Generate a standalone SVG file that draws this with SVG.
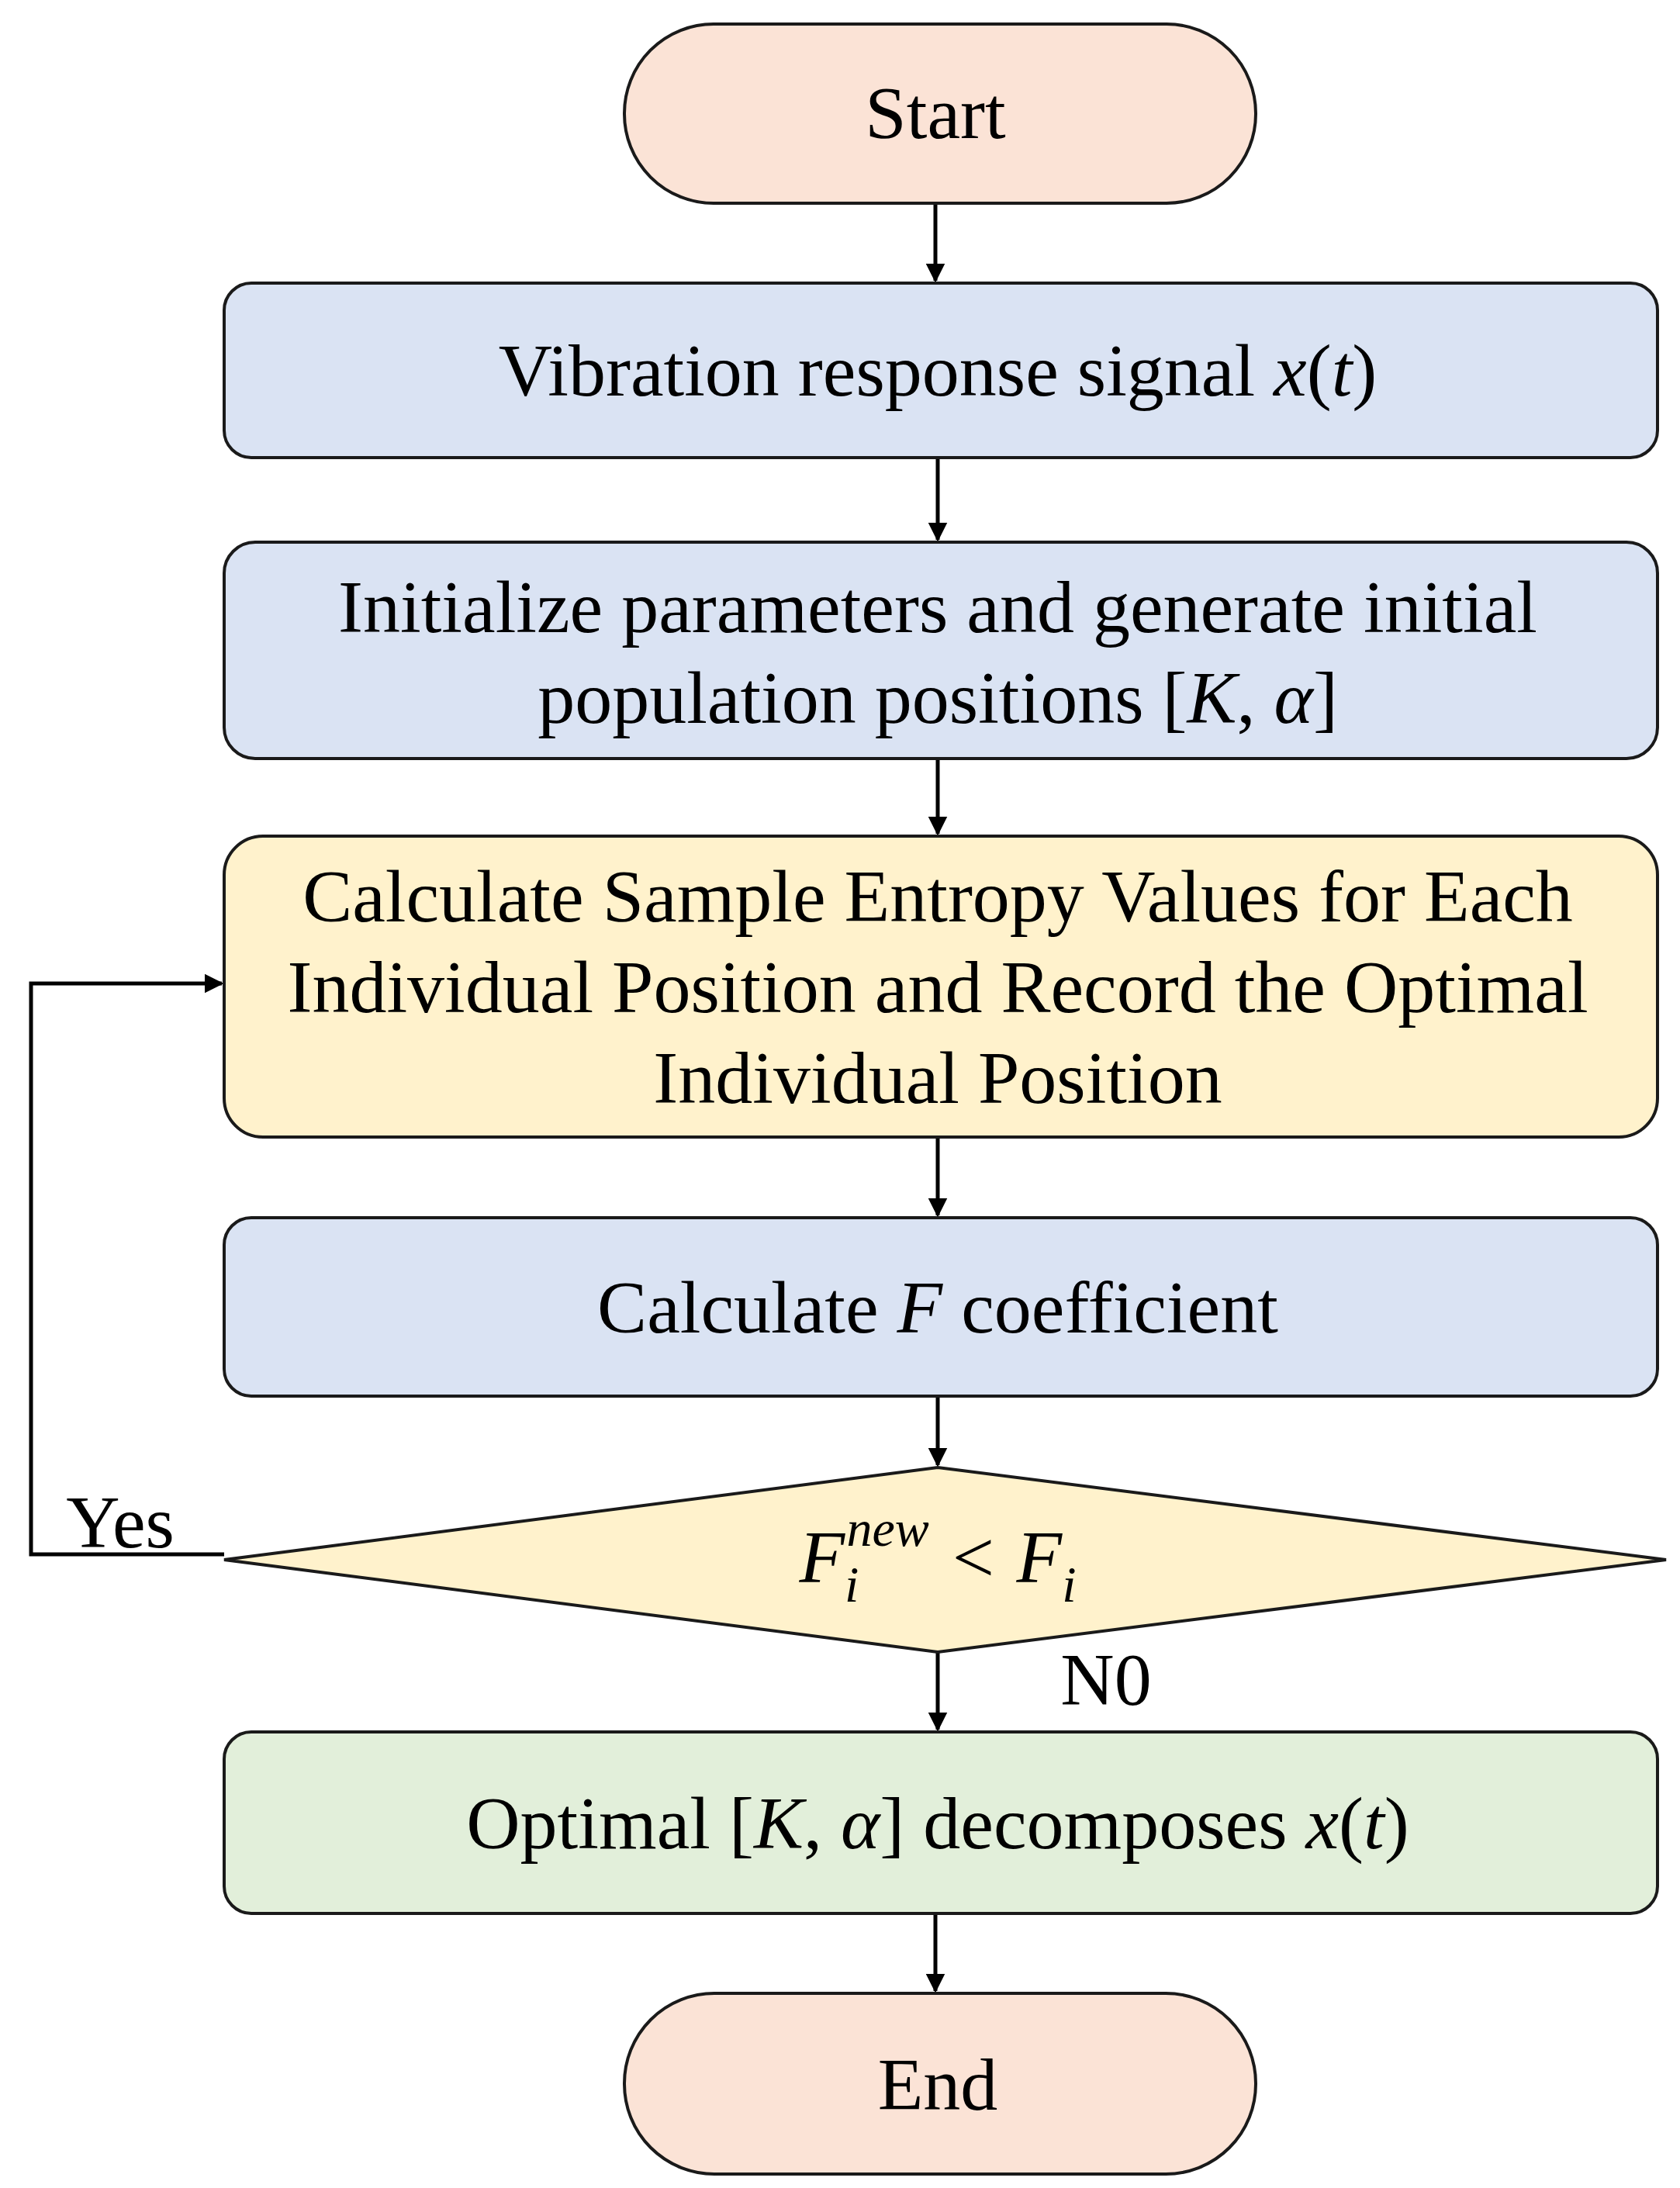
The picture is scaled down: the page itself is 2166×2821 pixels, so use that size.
<svg xmlns="http://www.w3.org/2000/svg" width="2166" height="2821" viewBox="0 0 2166 2821">
<style>
.b{stroke:#1a1a1a;stroke-width:4}
.t{font-family:"Liberation Serif",serif;font-size:96px;fill:#000;text-anchor:middle}
.c{stroke:#000;stroke-width:5;fill:none}
</style>
<defs><marker id="a" viewBox="0 0 10 10" refX="9" refY="5" markerWidth="5" markerHeight="5" orient="auto" markerUnits="strokeWidth"><path d="M0,0L10,5L0,10z" fill="#000"/></marker></defs>
<rect width="2166" height="2821" fill="#fff"/>
<g id="connectors">
<line class="c" x1="1206" y1="262" x2="1206" y2="362" marker-end="url(#a)"/>
<line class="c" x1="1209" y1="590" x2="1209" y2="696" marker-end="url(#a)"/>
<line class="c" x1="1209" y1="978" x2="1209" y2="1075" marker-end="url(#a)"/>
<line class="c" x1="1209" y1="1466" x2="1209" y2="1567" marker-end="url(#a)"/>
<line class="c" x1="1209" y1="1800" x2="1209" y2="1889" marker-end="url(#a)"/>
<line class="c" x1="1209" y1="2130" x2="1209" y2="2230" marker-end="url(#a)"/>
<line class="c" x1="1206" y1="2467" x2="1206" y2="2567" marker-end="url(#a)"/>
<polyline class="c" points="289,2004 40,2004 40,1268 286,1268" marker-end="url(#a)"/>
<text class="t" x="155" y="1995">Yes</text>
<text class="t" x="1426" y="2198">N0</text>
</g>
<g id="start"><rect class="b" x="805" y="31" width="814" height="231" rx="115" fill="#fbe3d6"/><text class="t" x="1206" y="178">Start</text></g>
<g id="n1"><rect class="b" x="289" y="365" width="1848" height="225" rx="35" fill="#dae3f3"/><text class="t" x="1209" y="510">Vibration response signal  <tspan font-style="italic">x</tspan>(<tspan font-style="italic">t</tspan>)</text></g>
<g id="n2"><rect class="b" x="289" y="699" width="1848" height="279" rx="40" fill="#dae3f3"/><text class="t" x="1209" y="815">Initialize parameters and generate initial</text><text class="t" x="1209" y="932">population positions [<tspan font-style="italic">K</tspan>, <tspan font-style="italic">α</tspan>]</text></g>
<g id="n3"><rect class="b" x="289" y="1078" width="1848" height="388" rx="50" fill="#fff2cc"/><text class="t" x="1209" y="1188">Calculate Sample Entropy Values for Each</text><text class="t" x="1209" y="1305">Individual Position and Record the Optimal</text><text class="t" x="1209" y="1422">Individual Position</text></g>
<g id="n4"><rect class="b" x="289" y="1570" width="1848" height="230" rx="35" fill="#dae3f3"/><text class="t" x="1209" y="1718">Calculate <tspan font-style="italic">F</tspan> coefficient</text></g>
<g id="d"><polygon class="b" points="289,2011 1209,1892 2148,2011 1209,2130" fill="#fff2cc"/><text class="t" x="1209" y="2040" font-style="italic">F<tspan font-size="66" dy="25">i</tspan><tspan font-size="66" dx="-16" dy="-72">new</tspan><tspan dy="47">  &lt; F</tspan><tspan font-size="66" dy="25">i</tspan></text></g>
<g id="n5"><rect class="b" x="289" y="2233" width="1848" height="234" rx="35" fill="#e2efda"/><text class="t" x="1209" y="2383">Optimal [<tspan font-style="italic">K</tspan>, <tspan font-style="italic">α</tspan>] decomposes <tspan font-style="italic">x</tspan>(<tspan font-style="italic">t</tspan>)</text></g>
<g id="end"><rect class="b" x="805" y="2570" width="814" height="233" rx="116" fill="#fbe3d6"/><text class="t" x="1209" y="2720">End</text></g>
</svg>
